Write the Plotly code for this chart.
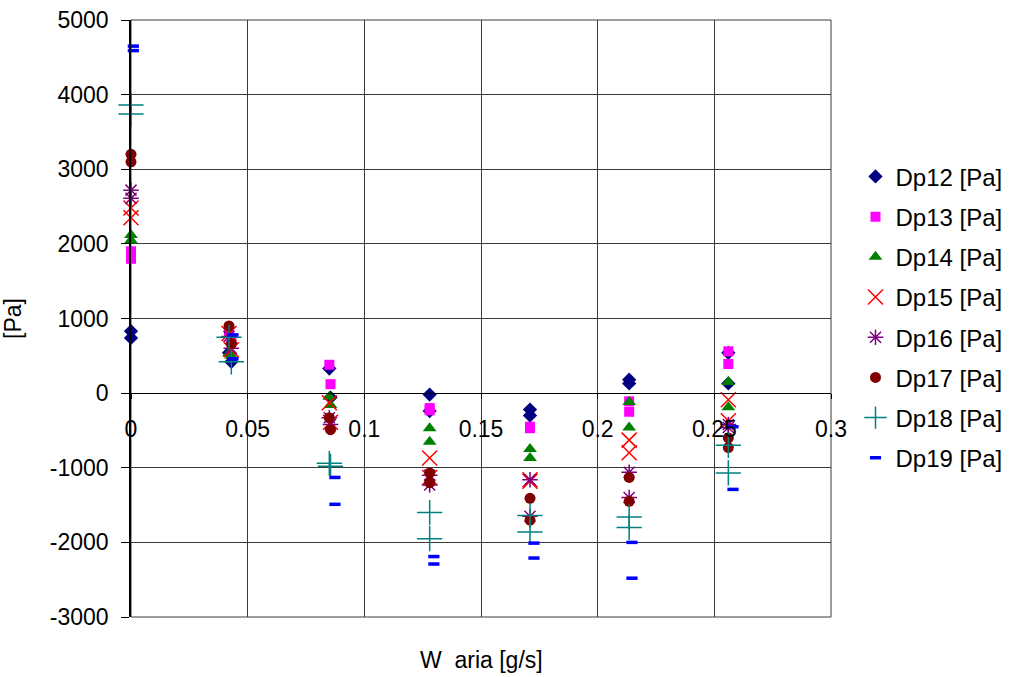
import plotly.graph_objects as go

# Measurement positions (W aria [g/s]), two readings per flow level
W = [0.0, 0.0, 0.042, 0.043, 0.085, 0.0855, 0.128, 0.128,
     0.171, 0.171, 0.2135, 0.2135, 0.256, 0.256]
W19 = [0.001, 0.001, 0.0437, 0.0437, 0.0874, 0.0874, 0.1298, 0.1298,
       0.1727, 0.1727, 0.2147, 0.2147, 0.258, 0.258]

Dp12 = [830, 740, 540, 420, 330, -60, -20, -240, -220, -300, 180, 130, 540, 130]
Dp13 = [1900, 1800, 800, 720, 380, 120, -200, -230, -450, -470, -110, -250, 560, 390]
Dp14 = [2120, 2050, 530, 500, -50, -160, -470, -650, -750, -870, -120, -460, 150, -190]
Dp15 = [2480, 2350, 800, 580, -130, -390, -870, -1130, -1160, -1180, -630, -800, -90, -370]
Dp16 = [2720, 2610, 760, 600, -330, -420, -1100, -1230, -1160, -1650, -1060, -1400, -420, -460]
Dp17 = [3200, 3100, 900, 660, -330, -490, -1070, -1200, -1410, -1700, -1130, -1450, -600, -730]
Dp18 = [3860, 3740, 750, 420, -940, -980, -1600, -1950, -1640, -1860, -1660, -1800, -700, -1070]
Dp19 = [4650, 4590, 780, 460, -1130, -1490, -2190, -2290, -2010, -2210, -2000, -2480, -450, -1290]

x_ticks = [0, 0.05, 0.1, 0.15, 0.2, 0.25, 0.3]
x_ticktext = ["0", "0.05", "0.1", "0.15", "0.2", "0.25", "0.3"]
y_ticks = [-3000, -2000, -1000, 0, 1000, 2000, 3000, 4000, 5000]
y_ticktext = ["-3000", "-2000", "-1000", "0", "1000", "2000", "3000", "4000", "5000"]

FONT = "Liberation Sans, Arial, sans-serif"
GRID = "#3a3a3a"

series = [
    ("Dp12 [Pa]", W, Dp12, dict(symbol="diamond", size=11, color="#000080")),
    ("Dp13 [Pa]", W, Dp13, dict(symbol="square", size=10, color="#FF00FF")),
    ("Dp14 [Pa]", W, Dp14, dict(symbol="triangle-up", size=12, color="#008000")),
    ("Dp15 [Pa]", W, Dp15, dict(symbol="x-thin-open", size=15, color="#FF0000",
                                line=dict(color="#FF0000", width=1.5))),
    ("Dp16 [Pa]", W, Dp16, dict(symbol="asterisk-open", size=13, color="#800080",
                                line=dict(color="#800080", width=1.5))),
    ("Dp17 [Pa]", W, Dp17, dict(symbol="circle", size=11, color="#800000")),
    ("Dp18 [Pa]", W, Dp18, dict(symbol="cross-thin-open", size=18, color="#008080",
                                line=dict(color="#008080", width=1.5))),
    ("Dp19 [Pa]", W19, Dp19, dict(symbol="line-ew-open", size=8, color="#0000FF",
                                  line=dict(color="#0000FF", width=3.5))),
]

fig = go.Figure()
for i, (name, xs, ys, mk) in enumerate(series):
    fig.add_trace(go.Scatter(x=xs, y=ys, mode="markers", name=name,
                             marker=mk, legendgroup=f"g{i}", cliponaxis=False))

fig.update_layout(
    width=1020, height=677,
    margin=dict(l=131, r=189, t=20, b=60, autoexpand=False),
    paper_bgcolor="white", plot_bgcolor="white",
    font=dict(family=FONT, size=23, color="black"),
    showlegend=True,
    legend=dict(x=1.035, xanchor="left", y=0.775, yanchor="top",
                font=dict(size=24, family=FONT), tracegroupgap=6,
                itemwidth=30, bgcolor="rgba(0,0,0,0)"),
    xaxis=dict(range=[0, 0.3], tickmode="array", tickvals=x_ticks, ticktext=x_ticktext,
               showgrid=True, gridcolor=GRID, gridwidth=1,
               showline=True, linecolor="black", linewidth=1,
               anchor="free", position=0.375, automargin=False,
               ticks="outside", ticklen=5, tickcolor="black",
               ticklabelstandoff=10, zeroline=False,
               tickfont=dict(size=23, family=FONT)),
    yaxis=dict(range=[-3000, 5000], tickmode="array", tickvals=y_ticks, ticktext=y_ticktext,
               showgrid=True, gridcolor=GRID, gridwidth=1,
               showline=True, linecolor="black", linewidth=1.5,
               ticks="outside", ticklen=8, tickcolor="black",
               ticklabelstandoff=8, zeroline=False, automargin=False,
               title=dict(text="[Pa]", standoff=30, font=dict(size=23, family=FONT)),
               tickfont=dict(size=23, family=FONT)),
    shapes=[dict(type="rect", xref="paper", yref="paper", x0=0, y0=0, x1=1, y1=1,
                 line=dict(color=GRID, width=1), layer="below")],
    annotations=[dict(text="W\u00a0 aria [g/s]", xref="paper", yref="paper",
                      x=0.5, y=-0.072, xanchor="center", yanchor="middle",
                      showarrow=False, font=dict(size=23, family=FONT))],
)

fig.write_html("out.html", config={"displayModeBar": False},
               post_script="document.body.style.margin='0';document.body.style.overflow='hidden';")
